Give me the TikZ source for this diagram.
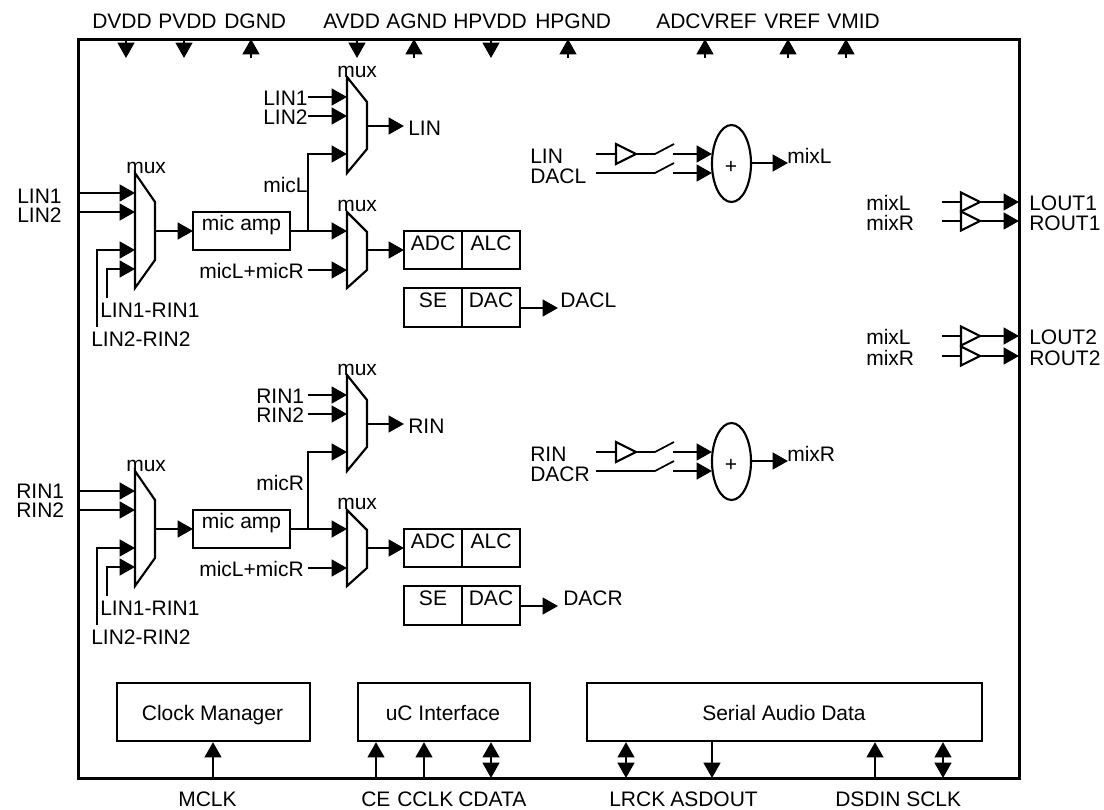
\documentclass[tikz,border=0pt]{standalone}
\usepackage{fontspec}
\setmainfont{Liberation Sans}
\usetikzlibrary{arrows.meta,shapes.geometric}
\tikzset{
  lbl/.style={inner sep=0pt,font=\fontsize{15.75}{15.75}\selectfont,anchor=base west},
  clbl/.style={inner sep=0pt,font=\fontsize{15.75}{15.75}\selectfont,anchor=base},
  wire/.style={line width=1.8pt,line join=miter},
  thin wire/.style={line width=1.3pt},
  shape line/.style={line width=1.6pt,line join=miter,fill=white},
  arr/.style={wire,-{Triangle[length=11.5pt,width=12.5pt]}},
  darr/.style={wire,{Triangle[length=11.5pt,width=12.5pt]}-{Triangle[length=11.5pt,width=12.5pt]}},
  frame/.style={draw,line width=2.25pt},
  blockbox/.style={draw,line width=1.6pt,inner sep=0pt,minimum width=0pt,anchor=north west}
}
% #1 tag, #2 y offset, #3 letter L/R, #4 mic label x, #5 upper input label x, #6 left input label x, #7 #8 left input baselines
\newcommand{\halfblock}[8]{%
  \def\dy{#2}%
  % first mux
  \draw[shape line] (135,173+\dy) -- (155,202+\dy) -- (155,260+\dy) -- (135,288+\dy) -- cycle;
  \node[lbl] (#1mal) at (126,173+\dy) {mux};
  \node[lbl] (#1inA) at (#6,#7) {#3IN1};
  \node[lbl] (#1inB) at (#6,#8) {#3IN2};
  \coordinate (#1fa) at (78,193+\dy);  \coordinate (#1ta) at (135,193+\dy);
  \coordinate (#1fb) at (78,212+\dy);  \coordinate (#1tb) at (135,212+\dy);
  \coordinate (#1fc) at (97,327+\dy);  \coordinate (#1tc) at (135,250+\dy);
  \coordinate (#1fd) at (107,298+\dy); \coordinate (#1td) at (135,269+\dy);
  \draw[arr] (#1fa) -- (#1ta);
  \draw[arr] (#1fb) -- (#1tb);
  \draw[arr] (#1fc) |- (#1tc);
  \draw[arr] (#1fd) |- (#1td);
  \node[lbl] (#1lr) at (100,317+\dy) {LIN1-RIN1};
  \node[lbl] (#1llr) at (91,346+\dy) {LIN2-RIN2};
  % mic amp
  \draw[shape line] (193,212+\dy) rectangle (290,250+\dy);
  \coordinate (#1ampi) at (193,231+\dy); \coordinate (#1ampo) at (290,231+\dy);
  \coordinate (#1mo) at (155,231+\dy);
  \node[clbl] (#1ampt) at (241.5,230+\dy) {mic amp};
  \draw[arr] (#1mo) -- (#1ampi);
  % upper mux
  \draw[shape line] (347,77+\dy) -- (367,102+\dy) -- (367,149+\dy) -- (347,173+\dy) -- cycle;
  \node[lbl] (#1ubl) at (337,77+\dy) {mux};
  \node[lbl] (#1u1) at (#5,105+\dy) {#3IN1};
  \node[lbl] (#1u2) at (#5,124+\dy) {#3IN2};
  \coordinate (#1ufa) at (308,97+\dy);  \coordinate (#1uta) at (347,97+\dy);
  \coordinate (#1ufb) at (308,116+\dy); \coordinate (#1utb) at (347,116+\dy);
  \coordinate (#1utc) at (347,154+\dy); \coordinate (#1br) at (308,231+\dy);
  \coordinate (#1uo) at (367,126+\dy);  \coordinate (#1ue) at (404,126+\dy);
  \draw[arr] (#1ufa) -- (#1uta);
  \draw[arr] (#1ufb) -- (#1utb);
  \draw[arr] (#1br) |- (#1utc);
  \draw[arr] (#1uo) -- (#1ue);
  \node[lbl] (#1ulab) at (408,135+\dy) {#3IN};
  \node[lbl] (#1miclab) at (#4,192+\dy) {mic#3};
  % lower mux
  \draw[shape line] (347,212+\dy) -- (367,232+\dy) -- (367,270+\dy) -- (347,288+\dy) -- cycle;
  \node[lbl] (#1lbl) at (337,211+\dy) {mux};
  \coordinate (#1lta) at (347,231+\dy);
  \coordinate (#1lfb) at (308,270+\dy); \coordinate (#1ltb) at (347,270+\dy);
  \coordinate (#1lo) at (367,250+\dy);  \coordinate (#1le) at (404,250+\dy);
  \draw[arr] (#1ampo) -- (#1lta);
  \draw[arr] (#1lfb) -- (#1ltb);
  \draw[arr] (#1lo) -- (#1le);
  \node[lbl] (#1pm) at (199,278+\dy) {micL+micR};
  % ADC/ALC
  \draw[shape line] (404,231+\dy) rectangle (520,269+\dy);
  \draw[shape line] (462,231+\dy) -- (462,269+\dy);
  \node[clbl] (#1adc) at (433,250+\dy) {ADC};
  \node[clbl] (#1alc) at (491,250+\dy) {ALC};
  % SE/DAC
  \draw[shape line] (404,288+\dy) rectangle (520,327+\dy);
  \draw[shape line] (462,288+\dy) -- (462,327+\dy);
  \node[clbl] (#1se) at (433,307+\dy) {SE};
  \node[clbl] (#1dac) at (491,307+\dy) {DAC};
  \coordinate (#1do) at (520,308+\dy); \coordinate (#1de) at (558,308+\dy);
  \draw[arr] (#1do) -- (#1de);
  \node[lbl] (#1dl) at (560+#2/100,307+\dy) {DAC#3};
  % mixer
  \node[lbl] (#1mi) at (530,163+\dy) {#3IN};
  \node[lbl] (#1md) at (530,183+\dy) {DAC#3};
  \coordinate (#1a1) at (596,154+\dy); \coordinate (#1a2) at (636,154+\dy);
  \coordinate (#1a3) at (655,154+\dy); \coordinate (#1a4) at (674,144+\dy);
  \draw[thin wire] (#1a1) -- (616,154+\dy);
  \draw[shape line] (616,144+\dy) -- (636,154+\dy) -- (616,164+\dy) -- cycle;
  \draw[thin wire] (#1a2) -- (#1a3) -- (#1a4);
  \coordinate (#1b1) at (596,173+\dy); \coordinate (#1b3) at (655,173+\dy); \coordinate (#1b4) at (674,163+\dy);
  \draw[thin wire] (#1b1) -- (#1b3) -- (#1b4);
  \coordinate (#1a5) at (673,154+\dy); \coordinate (#1a6) at (712,154+\dy);
  \coordinate (#1b5) at (673,173+\dy); \coordinate (#1b6) at (712,173+\dy);
  \draw[arr] (#1a5) -- (#1a6);
  \draw[arr] (#1b5) -- (#1b6);
  \draw[shape line] (731.5,163.5+\dy) ellipse [x radius=19.5,y radius=38.5];
  \node[inner sep=0pt,font=\fontsize{15.75}{15.75}\selectfont] (#1plus) at (731,167+\dy) {+};
  \coordinate (#1mo2) at (751,163+\dy); \coordinate (#1me2) at (788,163+\dy);
  \draw[arr] (#1mo2) -- (#1me2);
  \node[lbl] (#1mx) at (787,163+\dy) {mix#3};
}
\newcommand{\outbuf}[5]{%
  % #1 tag, #2 y of first line, #3 y of second, #4 index, #5 input wire style
  \node[lbl] (#1la) at (866,#2+8) {mixL};
  \node[lbl] (#1lb) at (866,#3+9) {mixR};
  \node[lbl] (#1oa) at (1029,#2+8) {LOUT#4};
  \node[lbl] (#1ob) at (1029,#3+9) {ROUT#4};
  \coordinate (#1s1) at (942,#2); \coordinate (#1s2) at (961,#2);
  \coordinate (#1s3) at (942,#3); \coordinate (#1s4) at (961,#3);
  \draw[#5] (#1s1) -- (#1s2);
  \draw[#5] (#1s3) -- (#1s4);
  \draw[shape line] (961,#2-9.5) -- (980,#2) -- (961,#2+9.5) -- cycle;
  \draw[shape line] (961,#3-9.5) -- (980,#3) -- (961,#3+9.5) -- cycle;
  \coordinate (#1e1) at (980,#2); \coordinate (#1e2) at (1019,#2);
  \coordinate (#1e3) at (980,#3); \coordinate (#1e4) at (1019,#3);
  \draw[arr] (#1e1) -- (#1e2);
  \draw[arr] (#1e3) -- (#1e4);
}
\begin{document}
\begin{tikzpicture}[x=0.75pt,y=-0.75pt]
\useasboundingbox (0,0) rectangle (1104,810);
\draw[frame] (78,39) rectangle (1019,778);
% top pins
\foreach \n/\xx/\lx/\dirn in {DVDD/126/92/d,PVDD/184/158/d,DGND/251/224/u,AVDD/357/323/d,AGND/414/386/u,HPVDD/491/453/d,HPGND/568/535/u,ADCVREF/705/656/u,VREF/788/764/u,VMID/846/827/u}{
  \node[lbl] (pin\n) at (\lx,28) {\n};
  \coordinate (a\n) at (\xx,39);
  \coordinate (b\n) at (\xx,58);
  \if\dirn d
    \draw[arr] (a\n) -- (b\n);
  \else
    \draw[arr] (b\n) -- (a\n);
  \fi
}
\halfblock{L}{0}{L}{263}{263}{17}{203}{222}
\halfblock{R}{298}{R}{256}{256}{16}{498}{517}
\outbuf{oa}{202}{221}{1}{thin wire}
\outbuf{ob}{336}{356}{2}{wire}
% bottom boxes
\node[blockbox,minimum width=144.75pt,minimum height=43.5pt] (clk) at (116,682) {};
\node[clbl] (clkt) at (212.5,720) {Clock Manager};
\node[blockbox,minimum width=129pt,minimum height=43.5pt] (uc) at (357,682) {};
\node[clbl] (uct) at (443,720) {uC Interface};
\node[blockbox,minimum width=296.25pt,minimum height=43.5pt] (ser) at (586,682) {};
\node[clbl] (sert) at (784,720) {Serial Audio Data};
\foreach \n/\xx/\lx/\st/\bx in {MCLK/213/178/arr/clk,CE/376/361/arr/uc,CCLK/424/397/arr/uc,CDATA/491/458/darr/uc,LRCK/626/609/darr/ser,DSDIN/875/835/arr/ser,SCLK/943/906/darr/ser}{
  \node[lbl] (pin\n) at (\lx,806) {\n};
  \coordinate (a\n) at (\xx,778);
  \draw[\st] (a\n) -- (a\n |- \bx.south);
}
\node[lbl] (pinASDOUT) at (670,806) {ASDOUT};
\coordinate (aASDOUT) at (712,778);
\draw[arr] (aASDOUT |- ser.south) -- (aASDOUT);
\end{tikzpicture}
\end{document}
